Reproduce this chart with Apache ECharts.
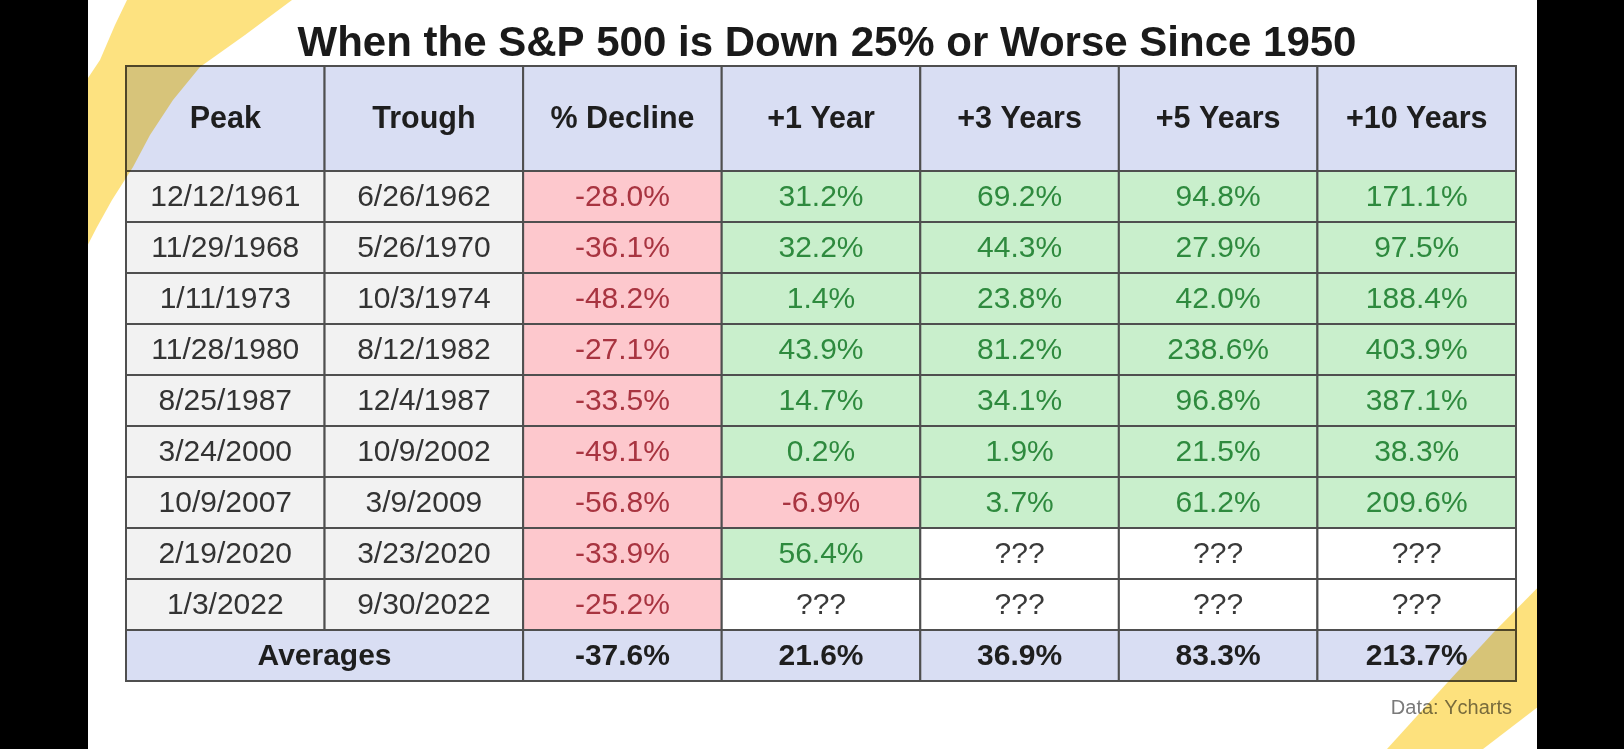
<!DOCTYPE html>
<html>
<head>
<meta charset="utf-8">
<script src="https://cdn.jsdelivr.net/npm/echarts@6/dist/echarts.min.js"></script>
<style>
html,body{margin:0;padding:0;background:#000;}
#chart{width:1624px;height:749px;}
</style>
</head>
<body>
<div id="chart"></div>
<script>
const title = 'When the S&P 500 is Down 25% or Worse Since 1950';
const headers = ['Peak', 'Trough', '% Decline', '+1 Year', '+3 Years', '+5 Years', '+10 Years'];
const peaks = ['12/12/1961', '11/29/1968', '1/11/1973', '11/28/1980', '8/25/1987', '3/24/2000', '10/9/2007', '2/19/2020', '1/3/2022'];
const troughs = ['6/26/1962', '5/26/1970', '10/3/1974', '8/12/1982', '12/4/1987', '10/9/2002', '3/9/2009', '3/23/2020', '9/30/2022'];
const declines = [-28.0, -36.1, -48.2, -27.1, -33.5, -49.1, -56.8, -33.9, -25.2];
const plus1 = [31.2, 32.2, 1.4, 43.9, 14.7, 0.2, -6.9, 56.4, null];
const plus3 = [69.2, 44.3, 23.8, 81.2, 34.1, 1.9, 3.7, null, null];
const plus5 = [94.8, 27.9, 42.0, 238.6, 96.8, 21.5, 61.2, null, null];
const plus10 = [171.1, 97.5, 188.4, 403.9, 387.1, 38.3, 209.6, null, null];
const averageLabel = 'Averages';
const averages = [-37.6, 21.6, 36.9, 83.3, 213.7];
const sourceNote = 'Data: Ycharts';

// ---- build cells ----
const HEADER_UNITS = 105 / 51; // header row is about twice a body row
const nBody = peaks.length;
const cells = [];
headers.forEach((h, c) => cells.push({col: c, row: 0, span: 1, text: h, kind: 'header'}));
const valueCols = [declines, plus1, plus3, plus5, plus10];
for (let r = 0; r < nBody; r++) {
  cells.push({col: 0, row: r + 1, span: 1, text: peaks[r], kind: 'date'});
  cells.push({col: 1, row: r + 1, span: 1, text: troughs[r], kind: 'date'});
  valueCols.forEach((arr, i) => {
    const v = arr[r];
    let kind, text;
    if (v === null || v === undefined) { kind = 'unknown'; text = '???'; }
    else { kind = v < 0 ? 'neg' : 'pos'; text = v.toFixed(1) + '%'; }
    cells.push({col: i + 2, row: r + 1, span: 1, text, kind});
  });
}
cells.push({col: 0, row: nBody + 1, span: 2, text: averageLabel, kind: 'avg'});
averages.forEach((v, i) => cells.push({col: i + 2, row: nBody + 1, span: 1, text: v.toFixed(1) + '%', kind: 'avg'}));

const STY = {
  header: {bg: '#d9def3', fg: '#1e1e1e', weight: 'bold', size: 30.5},
  date: {bg: '#f2f2f2', fg: '#333333', weight: 'normal', size: 30},
  neg: {bg: '#fdc8cd', fg: '#a83440', weight: 'normal', size: 30},
  pos: {bg: '#c9efcc', fg: '#2e8a3e', weight: 'normal', size: 30},
  unknown: {bg: '#ffffff', fg: '#3a3a3a', weight: 'normal', size: 30},
  avg: {bg: '#d9def3', fg: '#1e1e1e', weight: 'bold', size: 30}
};

function rowTop(r) { return r === 0 ? 0 : HEADER_UNITS + (r - 1); }
function rowBottom(r) { return r === 0 ? HEADER_UNITS : HEADER_UNITS + r; }

const chart = echarts.init(document.getElementById('chart'));
chart.setOption({
  backgroundColor: '#ffffff',
  animation: false,
  title: {
    text: title,
    left: 822,
    top: 18,
    textAlign: 'center',
    textStyle: {fontFamily: 'Liberation Sans, Arial, sans-serif', fontSize: 42, fontWeight: 'bold', color: '#1a1a1a'}
  },
  grid: {left: 126, right: 108, top: 66, bottom: 68},
  xAxis: {type: 'value', min: 0, max: headers.length, show: false},
  yAxis: {type: 'value', min: 0, max: HEADER_UNITS + nBody + 1, inverse: true, show: false},
  series: [{
    type: 'custom',
    clip: false,
    data: cells.map(c => [c.col, c.row, c.span]),
    renderItem: function (params, api) {
      const c = cells[params.dataIndex];
      const s = STY[c.kind];
      const p0 = api.coord([c.col, rowTop(c.row)]);
      const p1 = api.coord([c.col + c.span, rowBottom(c.row)]);
      const x = Math.min(p0[0], p1[0]), y = Math.min(p0[1], p1[1]);
      const w = Math.abs(p1[0] - p0[0]), h = Math.abs(p1[1] - p0[1]);
      return {
        type: 'group',
        children: [
          {type: 'rect', shape: {x, y, width: w, height: h},
           style: {fill: s.bg, stroke: '#4f4f4f', lineWidth: 2}},
          {type: 'text', style: {
            text: c.text, x: x + w / 2, y: y + h / 2 + 1,
            align: 'center', verticalAlign: 'middle',
            fill: s.fg,
            font: s.weight + ' ' + s.size + 'px "Liberation Sans", Arial, sans-serif'
          }}
        ]
      };
    }
  }],
  graphic: [
    {type: 'text', right: 112, top: 698, z: 5,
     style: {text: sourceNote, fill: '#7a7a7a', font: '20px "Liberation Sans", Arial, sans-serif'}},
    {type: 'polygon', z: 20,
     shape: {points: [[60,120],[100,60],[115,25],[127,0],[292,0],[245,35],[200,67],[173,100],[150,135],[133,167],[112,200],[97,227],[80,260]]},
     style: {fill: '#fcda5c', opacity: 0.78, blend: 'multiply'}},
    {type: 'polygon', z: 20,
     shape: {points: [[1387,749],[1447,683],[1493,633],[1560,565],[1560,690],[1483,749]]},
     style: {fill: '#fcda5c', opacity: 0.8, blend: 'multiply'}},
    {type: 'rect', z: 30, shape: {x: 0, y: 0, width: 88, height: 749}, style: {fill: '#000'}},
    {type: 'rect', z: 30, shape: {x: 1537, y: 0, width: 87, height: 749}, style: {fill: '#000'}}
  ]
});
</script>
</body>
</html>
